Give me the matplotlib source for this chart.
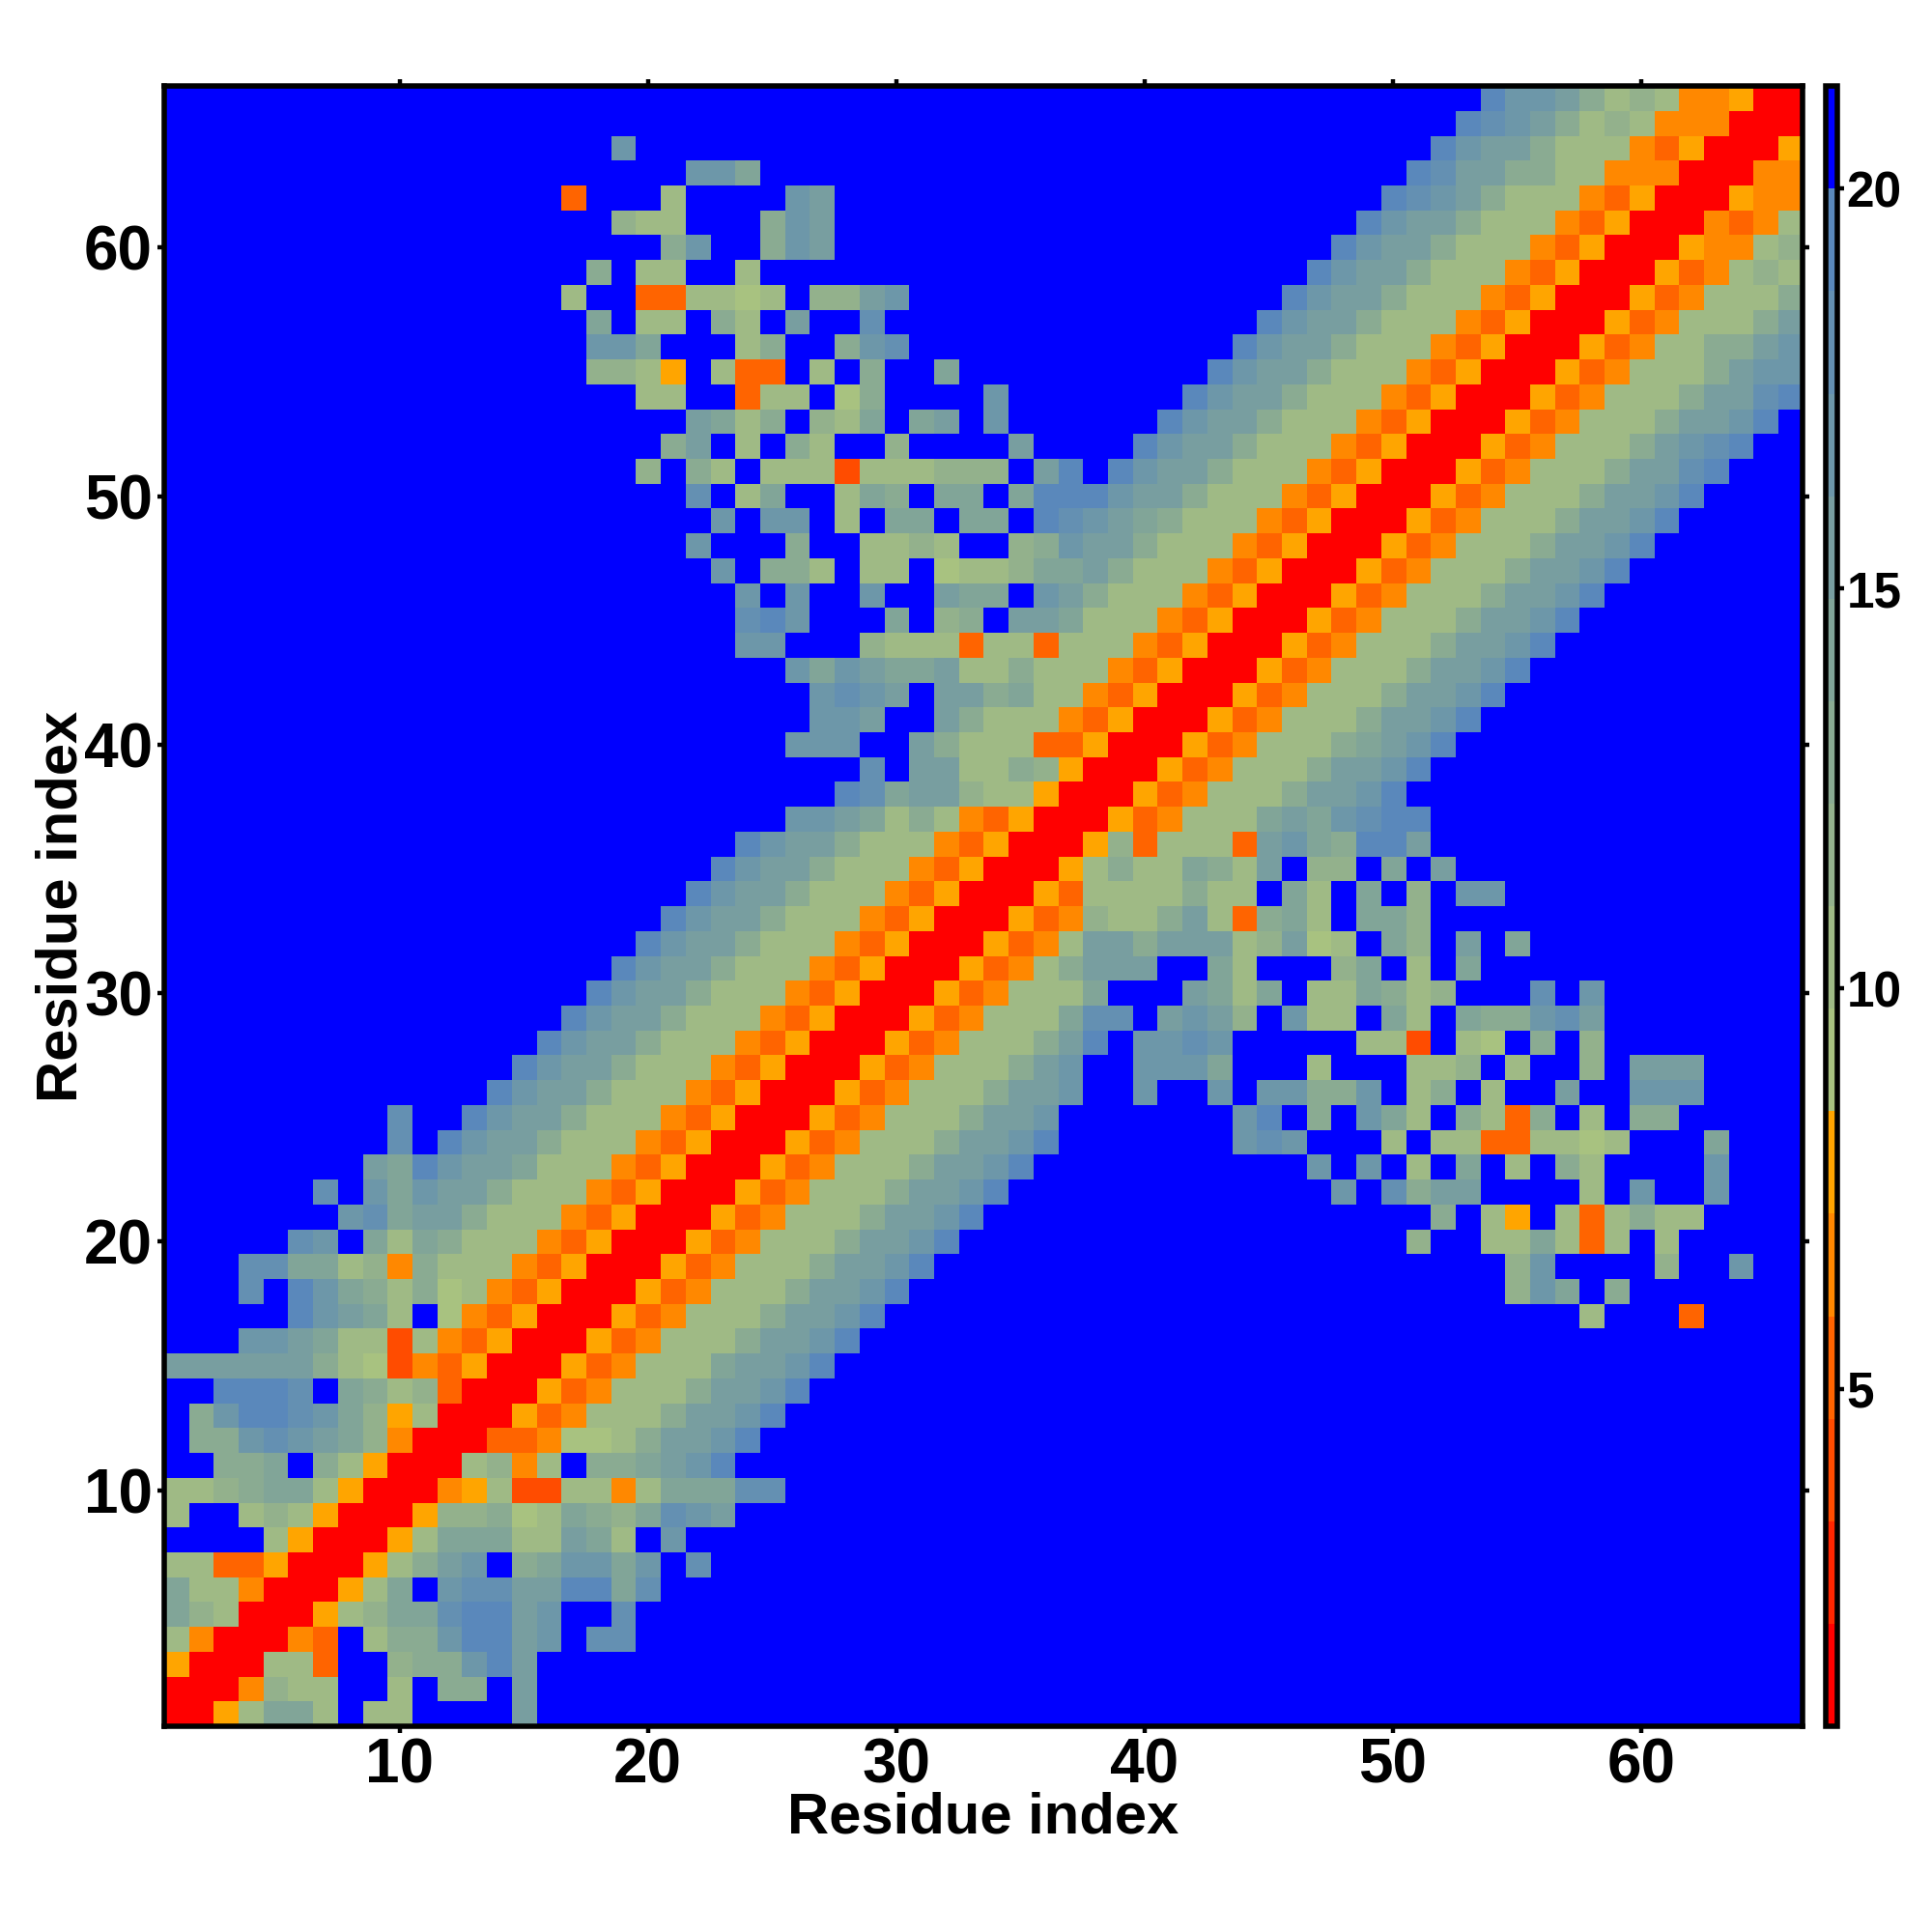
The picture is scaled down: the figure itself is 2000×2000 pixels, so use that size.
import numpy as np
import matplotlib
matplotlib.use('Agg')
import matplotlib.pyplot as plt
from matplotlib.colors import ListedColormap, BoundaryNorm

plt.rcParams['font.family'] = ['Liberation Sans', 'DejaVu Sans']
plt.rcParams['font.weight'] = 'bold'

# lower triangle of the map, one string per residue (row 1 first), one hex digit
# per cell giving the colour level. Missing cells on the left are level f (blue).
rows = [
    "0",
    "00",
    "500",
    "7400",
    "a8700",
    "a77400",
    "7733500",
    "ffff7500",
    "7ff787500",
    "7789aa7500",
    "ff99af97500",
    "f99cdcba8400",
    "f9ceedca85700",
    "ffeeedfa978300",
    "bbbbbb976243500",
    "fffccba772743500",
    "fffffecba7f643500",
    "fffdfeca9796743500",
    "fffddaa784977743500",
    "fffffdcfa7a977743500",
    "cdabb977743500",
    "dfcacbb977743500",
    "baecbba77743500",
    "dfecbb977743500",
    "dffecbb977743500",
    "ecbb977743500",
    "ecbb977743500",
    "ecbb977743500",
    "ecbb977743500",
    "ecbb977743500",
    "ecbb977743500",
    "ecbb977743500",
    "ecbb977743500",
    "ecbb977743500",
    "ecbb977743500",
    "ecbb977743500",
    "ccba79743500",
    "edabb8775" "00",
    "dfbb7798500",
    "cccffb977733500",
    "ccbffb977743500",
    "cdcbfbb9a77435" "00",
    "cacbaab77977743500",
    "ccfff8777377377743500",
    "decfffaf89fbba77743500",
    "cfcffcffbaafcb977743500",
    "cf997f77f6778aab977743500",
    "cfff9ff7787ff89cbb977743500",
    "cfccf7faafaafedcba977743500",
    "df7aff7a9faafaeeecbb977743500",
    "8f97f7772777888fbefecbb977743500",
    "9bf7f97ff8ffffbffffecbb977743500",
    "ba79f87afabfcffffffecbb977743500",
    "77ff377f69ffffcfffffffecbb977743500",
    "8875f733f7f9ffaffffffffffecbb977743500",
    "ccafff79ff9cdfffffffffffffecbb977743500",
    "af77f97fbffdfffffffffffffffecbb977743500",
    "7ff337767f88bcfffffffffffffffecbb977743500",
    "9f77ff7ffffffffffffffffffffffecbb977743500",
    "9cff9cbffffffffffffffffffffecbb977743500",
    "877fff9cbfffffffffffffffffffffecbb977743500",
    "3fff7ffffcbffffffffffffffffffffffedcb977743500",
    "ccaffffffffffffffffffffffffffedbb997744400",
    "cffffffffffffffffffffffffffffffffecbb977743500",
    "edcb978744400",
    "eccb978744500",
]

# colour levels, red (close) to blue (far)
level_colors = [
    '#ff0000', '#ff2600', '#ff4c00', '#ff6400', '#ff8800', '#ffa500',
    '#a8c280', '#9fba85', '#93b18c', '#8aab92', '#81a598', '#789ea0',
    '#6d97a9', '#6490b2', '#5a88bb', '#0000ff',
]
bounds = np.linspace(0.78, 21.28, 17)
res_ticks = [10, 20, 30, 40, 50, 60]
bar_ticks = [5, 10, 15, 20]

n = len(rows)
levels = np.full((n, n), 15)
for i, row in enumerate(rows):
    row = row.rjust(i + 1, 'f')
    assert len(row) == i + 1, (i + 1, len(row))
    levels[i, :i + 1] = [int(ch, 16) for ch in row]
    levels[:i + 1, i] = levels[i, :i + 1]
values = bounds[levels] + 0.64

cmap = ListedColormap(level_colors)
norm = BoundaryNorm(bounds, cmap.N)

fig = plt.figure(figsize=(10, 10), dpi=200)
ax = fig.add_axes([0.08475, 0.1065, 0.8482, 0.8489])
im = ax.imshow(values, origin='lower', cmap=cmap, norm=norm, aspect='auto',
               interpolation='nearest', extent=(0.5, n + 0.5, 0.5, n + 0.5))
ax.set_xticks(res_ticks)
ax.set_yticks(res_ticks)
ax.tick_params(axis='both', length=2.6, width=1.6, top=True, right=True, labelsize=23, pad=1.5)
for s in ax.spines.values():
    s.set_linewidth(2)
ax.set_xlabel('Residue index', fontsize=21.5, fontweight='bold')
ax.set_ylabel('Residue index', fontsize=21.5, fontweight='bold')
ax.xaxis.set_label_coords(0.5, -0.04)
ax.yaxis.set_label_coords(-0.046, 0.5)

cax = fig.add_axes([0.94475, 0.1065, 0.006, 0.8489])
cb = fig.colorbar(im, cax=cax, ticks=bar_ticks, spacing='proportional', drawedges=False)
cb.minorticks_off()
cb.outline.set_linewidth(2)
cb.ax.tick_params(length=2.6, width=1.6, labelsize=18.5, pad=1)

fig.savefig('out.png', dpi=200, facecolor='white')
